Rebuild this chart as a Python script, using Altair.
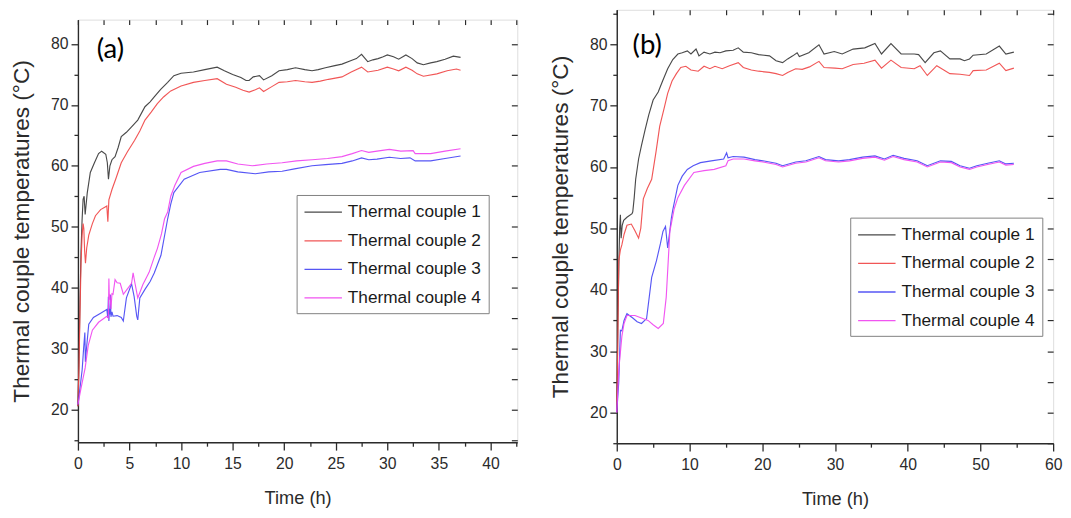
import altair as alt
import pandas as pd

SERIES = ["Thermal couple 1", "Thermal couple 2", "Thermal couple 3", "Thermal couple 4"]
COLORS = ["#3a3a3a", "#f04848", "#4848f4", "#f046f0"]

# ---------------- panel (a) ----------------
a_tc1 = [(0, 20.5), (0.1, 28), (0.2, 38), (0.3, 46), (0.4, 51), (0.5, 54.5), (0.6, 55), (0.7, 52),
         (0.9, 55.5), (1.2, 58.9), (1.6, 60.5), (2.0, 62), (2.3, 62.4), (2.7, 61.9), (2.85, 60.5),
         (2.96, 57.8), (3.1, 60), (3.3, 61.0), (3.6, 61.5), (3.9, 63), (4.2, 64.8), (4.7, 65.5),
         (5.2, 66.4), (5.8, 67.5), (6.5, 69.7), (7.0, 70.5), (7.4, 71.3), (8.0, 72.5), (8.7, 73.7),
         (9.3, 74.8), (10.0, 75.2), (11.2, 75.4), (12.3, 75.8), (13.5, 76.2), (14.2, 75.6), (15.0, 75.0),
         (15.8, 74.5), (16.3, 74.0), (16.6, 74.0), (17.0, 74.6), (17.6, 74.8), (18.0, 74.1), (18.8, 74.8),
         (19.5, 75.6), (20.3, 75.8), (21.1, 76.1), (22.0, 75.8), (22.7, 75.6), (23.3, 75.8), (24.0, 76.1),
         (24.8, 76.4), (25.6, 76.7), (26.5, 77.3), (27.0, 77.6), (27.5, 78.3), (28.1, 77.1), (28.6, 77.4),
         (29.1, 77.6), (29.6, 77.9), (30.0, 78.2), (30.6, 77.9), (31.1, 77.5), (31.8, 78.2), (32.4, 77.6),
         (32.9, 76.9), (33.5, 76.6), (34.2, 76.9), (34.8, 77.1), (35.6, 77.5), (36.4, 78.0), (37.1, 77.8)]
a_tc2 = [(0, 20.5), (0.1, 27), (0.2, 36), (0.3, 44), (0.4, 48.5), (0.5, 50.5), (0.57, 49.7), (0.65, 46),
         (0.73, 44.0), (0.85, 46.5), (1.05, 48.6), (1.4, 50.5), (1.7, 51.8), (2.2, 52.8), (2.6, 53.2),
         (2.8, 53.4), (2.9, 50.8), (3.0, 54.4), (3.3, 56.1), (3.7, 58), (4.2, 60.5), (4.8, 62.3),
         (5.5, 64.2), (6.0, 65.7), (6.5, 67.5), (7.1, 68.8), (7.7, 70.2), (8.3, 71.3), (9.0, 72.3),
         (10.0, 73.1), (11.2, 73.7), (12.3, 74.0), (13.5, 74.3), (14.4, 73.4), (15.3, 72.9), (16.0, 72.4),
         (16.6, 72.1), (17.2, 72.5), (17.6, 72.8), (18.0, 72.2), (18.8, 73.0), (19.5, 73.7), (20.3, 73.8),
         (21.1, 74.0), (22.0, 73.8), (22.7, 73.7), (23.5, 73.9), (24.3, 74.2), (25.6, 74.6), (26.5, 75.4),
         (27.5, 76.2), (28.1, 75.4), (29.1, 75.7), (30.0, 76.2), (30.6, 75.9), (31.1, 75.6), (31.8, 76.2),
         (32.4, 75.7), (32.9, 75.1), (33.5, 74.7), (34.8, 75.1), (35.8, 75.6), (36.7, 75.9), (37.1, 75.7)]
a_tc3 = [(0, 20.8), (0.2, 23.5), (0.41, 26.5), (0.55, 30), (0.67, 32.6), (0.72, 27.8), (0.8, 29.5),
         (1.05, 34), (1.5, 35.1), (2.2, 35.8), (2.8, 36.4), (2.9, 35.0), (2.95, 38.5), (3.0, 34.5),
         (3.05, 36.5), (3.1, 35.6), (3.15, 38.8), (3.2, 35.2), (3.3, 36.0), (3.4, 35.3), (3.8, 35.4),
         (4.2, 35.1), (4.4, 34.5), (4.7, 38.3), (5.2, 40.6), (5.45, 38.5), (5.7, 35.3), (5.8, 34.7),
         (6.0, 38.3), (6.5, 39.7), (7.0, 41.0), (7.4, 42.4), (8.05, 45.3), (8.7, 51.3), (9.0, 53.7),
         (9.3, 55.6), (10.3, 57.8), (11.8, 58.9), (13.8, 59.4), (14.4, 59.4), (15.5, 59.0), (17.2, 58.7),
         (18.5, 59.0), (19.8, 59.1), (21.0, 59.5), (22.7, 60.0), (24.0, 60.2), (25.6, 60.4), (26.6, 60.8),
         (27.5, 61.3), (28.2, 61.0), (29.0, 61.1), (30.2, 61.4), (31.3, 61.2), (32.2, 61.3), (32.7, 60.8),
         (34.2, 60.8), (35.6, 61.2), (37.1, 61.6)]
a_tc4 = [(0, 20.8), (0.3, 23.5), (0.7, 26.8), (1.0, 30.5), (1.4, 33.0), (2.0, 34.3), (2.8, 35.3),
         (2.95, 35.0), (3.0, 41.5), (3.05, 38.0), (3.1, 38.9), (3.2, 36.5), (3.3, 39.0), (3.4, 38.9),
         (3.6, 41.3), (3.8, 40.8), (4.1, 40.7), (4.4, 38.9), (4.8, 39.8), (5.2, 40.7), (5.35, 42.4),
         (5.5, 41.0), (5.8, 38.3), (6.3, 40.5), (6.9, 42.5), (7.4, 45.0), (7.7, 46.4), (8.1, 48.8),
         (8.4, 51.3), (8.7, 52.4), (9.0, 55.0), (9.4, 56.8), (10.0, 58.9), (11.2, 59.9), (12.3, 60.4),
         (13.5, 60.8), (14.4, 60.8), (15.5, 60.3), (16.9, 60.0), (18.3, 60.3), (19.8, 60.5), (21.2, 60.8),
         (22.7, 61.0), (24.2, 61.2), (25.6, 61.5), (26.6, 62.0), (27.5, 62.5), (28.2, 62.2), (29.0, 62.4),
         (30.2, 62.7), (31.3, 62.4), (32.5, 62.5), (32.7, 62.0), (34.2, 62.0), (35.6, 62.4), (37.1, 62.8)]

# ---------------- panel (b) ----------------
b_tc1 = [(0, 20), (0.15, 35), (0.3, 45), (0.4, 50), (0.5, 52.2), (0.6, 48.4), (0.75, 50.5), (0.95, 51.3),
         (1.4, 51.8), (2.1, 52.4), (2.2, 52.7), (2.4, 55), (2.6, 58), (3.0, 61.3), (3.4, 63.5), (3.9, 66.1),
         (4.4, 68.5), (5.0, 70.9), (5.7, 72.2), (6.3, 74.0), (7.0, 76.0), (7.7, 77.5), (8.4, 78.4),
         (9.0, 78.6), (9.7, 78.9), (10.2, 78.4), (10.9, 79.2), (11.3, 78.1), (12.0, 78.7), (12.8, 78.4),
         (13.5, 78.7), (14.2, 78.6), (15.0, 78.9), (16.0, 79.0), (16.7, 79.4), (17.4, 78.7), (18.5, 78.6),
         (19.5, 78.3), (21.0, 78.1), (21.9, 77.3), (22.8, 77.0), (23.5, 77.6), (24.2, 78.1), (24.8, 78.6),
         (25.1, 78.0), (26.4, 78.6), (27.8, 79.9), (28.5, 78.4), (29.9, 78.8), (31.0, 78.4), (32.5, 79.2),
         (34.1, 79.4), (35.5, 80.1), (36.4, 78.4), (37.7, 80.1), (39.1, 78.4), (40.9, 78.4), (41.5, 78.3),
         (42.4, 77.0), (43.6, 78.6), (44.5, 78.9), (45.8, 77.6), (47.2, 77.6), (47.8, 77.3), (48.5, 77.6),
         (49.0, 78.2), (50.8, 78.4), (52.6, 79.7), (53.5, 78.4), (54.6, 78.7)]
b_tc2 = [(0, 20), (0.15, 32), (0.27, 44.7), (0.5, 46.5), (0.7, 47.3), (1.0, 49), (1.4, 50.5), (2.0, 50.7),
         (2.5, 49.6), (3.0, 48.4), (3.3, 50), (3.65, 54.8), (4.2, 56.5), (4.8, 58.0), (5.4, 62.5),
         (5.9, 66.6), (6.5, 69.5), (7.0, 72.0), (7.6, 74), (8.2, 75.2), (8.8, 76.2), (9.5, 76.4),
         (10.2, 75.8), (11.2, 75.6), (12.0, 76.4), (12.8, 76.0), (13.5, 76.4), (14.5, 76.0), (15.5, 76.5),
         (16.7, 77.0), (17.4, 76.2), (18.5, 75.8), (19.5, 75.6), (21.0, 75.4), (21.9, 75.2), (22.8, 74.9),
         (23.5, 75.4), (24.6, 76.0), (25.5, 75.9), (26.5, 76.3), (27.8, 77.2), (28.5, 76.2), (30.0, 76.1),
         (31.0, 76.0), (32.5, 76.7), (34.0, 76.9), (35.5, 77.4), (36.4, 76.1), (37.7, 77.4), (39.1, 76.2),
         (40.9, 76.0), (41.7, 76.5), (42.7, 74.9), (44.0, 76.5), (45.8, 75.2), (47.2, 75.1), (48.5, 74.9),
         (49.0, 75.7), (50.8, 75.8), (52.6, 76.9), (53.5, 75.7), (54.6, 76.1)]
b_tc3 = [(0, 20), (0.27, 24.9), (0.5, 33.4), (0.7, 33.3), (1.0, 35), (1.4, 36.1), (2.2, 35.4), (2.8, 34.8),
         (3.4, 34.5), (4.1, 35.3), (4.8, 42.0), (5.45, 44.7), (6.0, 47.5), (6.35, 49.5), (6.7, 50.3),
         (7.0, 46.8), (7.5, 51.6), (7.7, 53), (8.4, 57.0), (9.0, 58.5), (9.7, 59.6), (10.5, 60.2),
         (11.5, 60.7), (13.0, 61.0), (14.7, 61.3), (15.1, 62.3), (15.3, 61.5), (16.0, 61.7), (17.5, 61.6),
         (19.0, 61.2), (20.1, 61.0), (21.9, 60.6), (22.8, 60.2), (24.6, 60.8), (26.0, 61.0), (27.8, 61.7),
         (28.7, 61.2), (30.5, 61.0), (32.0, 61.2), (33.8, 61.6), (35.5, 61.8), (36.8, 61.3), (38.0, 61.9),
         (39.5, 61.4), (41.3, 61.0), (42.7, 60.2), (44.5, 61.0), (46.0, 60.9), (47.2, 60.2), (48.5, 59.8),
         (49.5, 60.2), (51.0, 60.6), (52.6, 61.0), (53.5, 60.5), (54.6, 60.6)]
b_tc4 = [(0, 20), (0.27, 26.9), (0.7, 32.4), (1.0, 34.5), (1.4, 35.8), (2.5, 35.8), (3.4, 35.4),
         (4.3, 35.0), (5.0, 34.3), (5.7, 33.7), (6.4, 34.5), (6.8, 38.8), (7.3, 49.5), (7.9, 53.2),
         (8.4, 55.0), (9.3, 57.0), (10.6, 59.1), (12.0, 59.4), (13.4, 59.6), (15.0, 60.2), (15.3, 61.0),
         (16.0, 61.3), (17.5, 61.3), (19.0, 61.0), (20.1, 60.8), (21.9, 60.4), (22.8, 60.0), (24.6, 60.6),
         (26.0, 60.8), (27.8, 61.5), (28.7, 61.0), (30.5, 60.8), (32.0, 61.0), (33.8, 61.4), (35.5, 61.6),
         (36.8, 61.1), (38.0, 61.7), (39.5, 61.2), (41.3, 60.8), (42.7, 60.0), (44.5, 60.8), (46.0, 60.7),
         (47.2, 60.0), (48.5, 59.6), (49.5, 60.0), (51.0, 60.4), (52.6, 60.8), (53.5, 60.3), (54.6, 60.4)]

FONT = "Liberation Sans, Arial, sans-serif"
INK = "#2b2b2b"


def frame(series_list):
    rows = []
    for name, pts in zip(SERIES, series_list):
        for i, (t, v) in enumerate(pts):
            rows.append({"series": name, "time": t, "temp": v, "idx": i})
    return pd.DataFrame(rows)


def panel(df, xdom, xminor, xmajor, ydom, width, height, leg_xy, tag, tag_xy):
    n = int(round(xdom[1] / xminor))
    x_vals = [i * xminor for i in range(n + 1) if i * xminor <= xdom[1] + 1e-9]
    y_vals = [v for v in range(15, 90, 5) if ydom[0] <= v <= ydom[1]]

    xs = alt.Scale(domain=xdom, nice=False, zero=False)
    ys = alt.Scale(domain=ydom, nice=False, zero=False)
    col = alt.Scale(domain=SERIES, range=COLORS)

    common = dict(grid=False, domainColor=INK, tickColor=INK, labelColor=INK, titleColor=INK,
                  domainWidth=1.4, tickWidth=1.3, labelFont=FONT, labelFontSize=16,
                  titleFontWeight="normal", titleFont=FONT, labelFlush=False, labelOverlap=False)

    x_axis = alt.Axis(values=x_vals, title="Time (h)",
                      labelExpr=f"datum.value % {xmajor} === 0 ? format(datum.value, 'd') : ''",
                      tickSize={"condition": {"test": f"datum.value % {xmajor} === 0", "value": 8}, "value": 4},
                      labelPadding=6, titlePadding=17, titleFontSize=18.5, **common)
    y_axis = alt.Axis(values=y_vals, title="Thermal couple temperatures (°C)",
                      labelExpr="datum.value % 10 === 0 ? format(datum.value, 'd') : ''",
                      tickSize={"condition": {"test": "datum.value % 10 === 0", "value": 7}, "value": 4},
                      labelPadding=3, titlePadding=17, titleFontSize=23, **common)

    legend = alt.Legend(title=None, orient="none", legendX=leg_xy[0], legendY=leg_xy[1],
                        direction="vertical", strokeColor="#808080", fillColor="white",
                        padding=7, symbolType="M-1,0L3,0", symbolSize=361, symbolStrokeWidth=1.3,
                        labelFont=FONT, labelFontSize=17.5, labelColor="#1a1a1a", labelOffset=24,
                        rowPadding=10, labelLimit=400)

    lines = alt.Chart(df).mark_line(strokeWidth=1.15, opacity=0.92).encode(
        x=alt.X("time:Q", scale=xs, axis=x_axis),
        y=alt.Y("temp:Q", scale=ys, axis=y_axis),
        color=alt.Color("series:N", scale=col, legend=legend),
        order="idx:Q",
    )

    mirror = alt.Chart(df).mark_line(opacity=0).encode(
        x=alt.X("time:Q", scale=xs, axis=alt.Axis(orient="top", values=x_vals, title=None, labels=False,
                                                  domain=False, grid=False, tickSize=5, offset=-5,
                                                  tickColor=INK, tickWidth=1.2)),
        y=alt.Y("temp:Q", scale=ys, axis=alt.Axis(orient="right", values=y_vals, title=None,
                                                  labels=False, domain=False, grid=False,
                                                  tickSize=6, offset=-6, tickColor=INK, tickWidth=1.2)),
        detail="series:N",
    )

    tag_df = pd.DataFrame({"tag": [tag]})
    label = alt.Chart(tag_df).mark_text(font="Lato, Open Sans, sans-serif", fontSize=28,
                                        color="#000000", align="center", baseline="middle").encode(
        text="tag:N", x=alt.value(tag_xy[0]), y=alt.value(tag_xy[1]))

    return alt.layer(lines, mirror, label).resolve_axis(x="independent", y="independent").properties(
        width=width, height=height)


df_a = frame([a_tc1, a_tc2, a_tc3, a_tc4])
df_b = frame([b_tc1, b_tc2, b_tc3, b_tc4])

# legend of (a) is positioned relative to the stacked (spacer + panel) group
pa = panel(df_a, [0, 42.6], 2.5, 5, [14.6, 84.0], 446, 429, (222, 188), "(a)", (33, 31))
pb = panel(df_b, [0, 60], 5, 10, [15.0, 85.6], 443, 440, (237, 211), "(b)", (31, 37))

# panel (a) sits lower than panel (b) in the reference: an invisible spacer above it
spacer = alt.Chart(pd.DataFrame({"v": [0]})).mark_rule(strokeWidth=0, opacity=0).encode(
    x=alt.value(0), x2=alt.value(1), y=alt.value(1)
).properties(width=446, height=7, view=alt.ViewBackground(stroke="transparent"))

left = alt.vconcat(spacer, pa, spacing=0)

chart = alt.hconcat(left, pb, spacing=30).resolve_scale(color="independent").resolve_legend(
    color="independent").properties(padding={"left": 2, "top": -7, "right": 0, "bottom": 0}
).configure_view(stroke=INK, strokeWidth=1.4).configure(background="white")

chart.save("out.html", embed_options={"renderer": "svg", "actions": False})
